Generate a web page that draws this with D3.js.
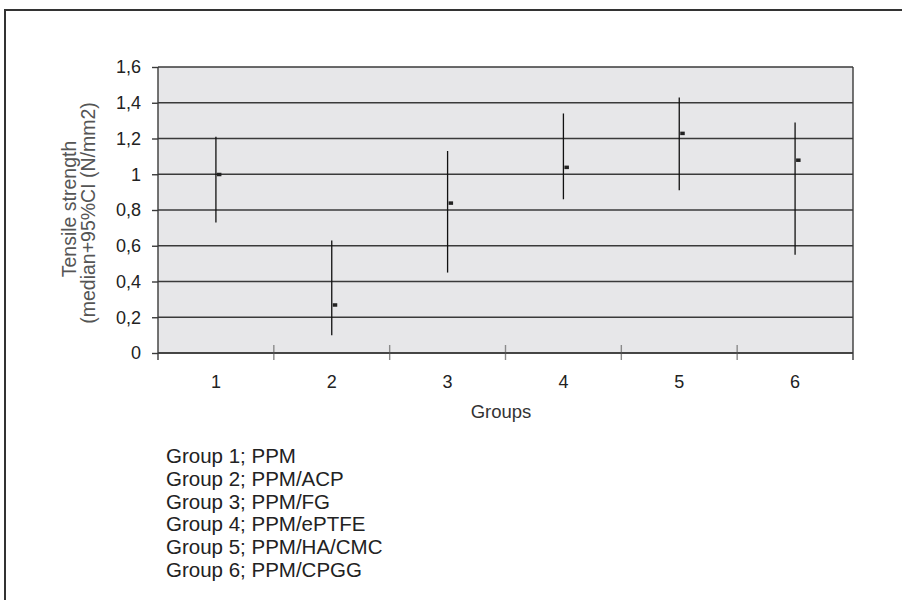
<!DOCTYPE html>
<html>
<head>
<meta charset="utf-8">
<script src="https://cdn.jsdelivr.net/npm/d3@7"></script>
<style>
  body { margin: 0; background: #fff; }
  text { font-family: "Liberation Sans", Arial, sans-serif; }
</style>
</head>
<body>
<div id="chart"></div>
<script>
// Data
var groups = ["1", "2", "3", "4", "5", "6"];
var medians = [1.00, 0.27, 0.84, 1.04, 1.23, 1.08];
var lowerCI = [0.73, 0.10, 0.45, 0.86, 0.91, 0.55];
var upperCI = [1.21, 0.63, 1.13, 1.34, 1.43, 1.29];
var yTicks = [0, 0.2, 0.4, 0.6, 0.8, 1, 1.2, 1.4, 1.6];
var legendLabels = ["Group 1; PPM", "Group 2; PPM/ACP", "Group 3; PPM/FG",
    "Group 4; PPM/ePTFE", "Group 5; PPM/HA/CMC", "Group 6; PPM/CPGG"];

var width = 902, height = 600;
var plot = {left: 158, right: 853, top: 67, bottom: 353};

var data = groups.map(function(g, i) {
    return {group: g, median: medians[i], lo: lowerCI[i], hi: upperCI[i]};
});

// scales
var x = d3.scaleBand().domain(groups).range([plot.left, plot.right]).padding(0);
var y = d3.scaleLinear().domain([0, 1.6]).range([plot.bottom, plot.top]);

// comma decimal like the original
function fmt(d) { return String(+d.toFixed(1)).replace(".", ","); }

var svg = d3.select("#chart").append("svg")
    .attr("width", width)
    .attr("height", height);

// outer frame (cut off at right and bottom)
svg.append("path")
    .attr("d", "M5,600 V10 H902")
    .attr("fill", "none")
    .attr("stroke", "#333")
    .attr("stroke-width", 2);

// plot background
svg.append("rect")
    .attr("x", plot.left)
    .attr("y", plot.top)
    .attr("width", plot.right - plot.left)
    .attr("height", plot.bottom - plot.top)
    .attr("fill", "#e7e7e9");

// horizontal gridlines
svg.append("g").selectAll("line")
    .data(yTicks)
    .enter().append("line")
    .attr("x1", plot.left)
    .attr("x2", plot.right)
    .attr("y1", function(d) { return y(d); })
    .attr("y2", function(d) { return y(d); })
    .attr("stroke", "#3a3a3a")
    .attr("stroke-width", 1.4);

// right border of plot
svg.append("line")
    .attr("x1", plot.right).attr("x2", plot.right)
    .attr("y1", plot.top).attr("y2", plot.bottom + 7)
    .attr("stroke", "#3a3a3a")
    .attr("stroke-width", 1.4);

// Y axis
var yAxis = svg.append("g")
    .attr("transform", "translate(" + plot.left + ",0)")
    .call(d3.axisLeft(y).tickValues(yTicks).tickFormat(fmt)
        .tickSize(6).tickSizeOuter(0).tickPadding(11));
yAxis.select(".domain").attr("stroke", "#3a3a3a").attr("stroke-width", 1.4)
    .attr("d", "M0," + plot.top + "V" + (plot.bottom + 7));
yAxis.selectAll(".tick line").attr("stroke", "#3a3a3a").attr("stroke-width", 1.4);
yAxis.selectAll(".tick text")
    .style("font-size", "18px")
    .attr("fill", "#222");

// X axis labels
var xAxis = svg.append("g")
    .attr("transform", "translate(0," + plot.bottom + ")")
    .call(d3.axisBottom(x).tickSize(0).tickPadding(22));
xAxis.select(".domain").remove();
xAxis.selectAll(".tick text")
    .style("font-size", "18px")
    .attr("fill", "#222");

// faint boundary ticks between groups
var bounds = groups.slice(1).map(function(g) { return x(g); });
svg.append("g").selectAll("line")
    .data(bounds)
    .enter().append("line")
    .attr("x1", function(d) { return d; })
    .attr("x2", function(d) { return d; })
    .attr("y1", plot.bottom - 8)
    .attr("y2", plot.bottom + 7)
    .attr("stroke", "#8a8a8a")
    .attr("stroke-width", 1.4);

// x axis line
svg.append("line")
    .attr("x1", plot.left).attr("x2", plot.right)
    .attr("y1", plot.bottom).attr("y2", plot.bottom)
    .attr("stroke", "#3a3a3a")
    .attr("stroke-width", 1.4);

// CI bars
var cx = function(d) { return x(d.group) + x.bandwidth() / 2; };
svg.append("g").selectAll("line")
    .data(data)
    .enter().append("line")
    .attr("x1", cx)
    .attr("x2", cx)
    .attr("y1", function(d) { return y(d.hi); })
    .attr("y2", function(d) { return y(d.lo); })
    .attr("stroke", "#111")
    .attr("stroke-width", 1.3);

// median markers
svg.append("g").selectAll("rect")
    .data(data)
    .enter().append("rect")
    .attr("x", function(d) { return cx(d) + 1; })
    .attr("y", function(d) { return y(d.median) - 1.5; })
    .attr("width", 4.5)
    .attr("height", 3.5)
    .attr("fill", "#222");

// axis titles
svg.append("text")
    .attr("x", 501)
    .attr("y", 418)
    .attr("text-anchor", "middle")
    .style("font-size", "18.5px")
    .attr("fill", "#333")
    .text("Groups");

var ylab = svg.append("text")
    .attr("transform", "rotate(-90)")
    .attr("text-anchor", "middle")
    .style("font-size", "19.5px")
    .attr("fill", "#555");
ylab.append("tspan").attr("x", -209).attr("y", 76).text("Tensile strength");
ylab.append("tspan").attr("x", -213).attr("y", 95).text("(median+95%CI (N/mm2)");

// legend text
svg.append("g").selectAll("text")
    .data(legendLabels)
    .enter().append("text")
    .attr("x", 166)
    .attr("y", function(d, i) { return 463 + i * 22.8; })
    .style("font-size", "20.5px")
    .attr("fill", "#222")
    .text(function(d) { return d; });
</script>
</body>
</html>
